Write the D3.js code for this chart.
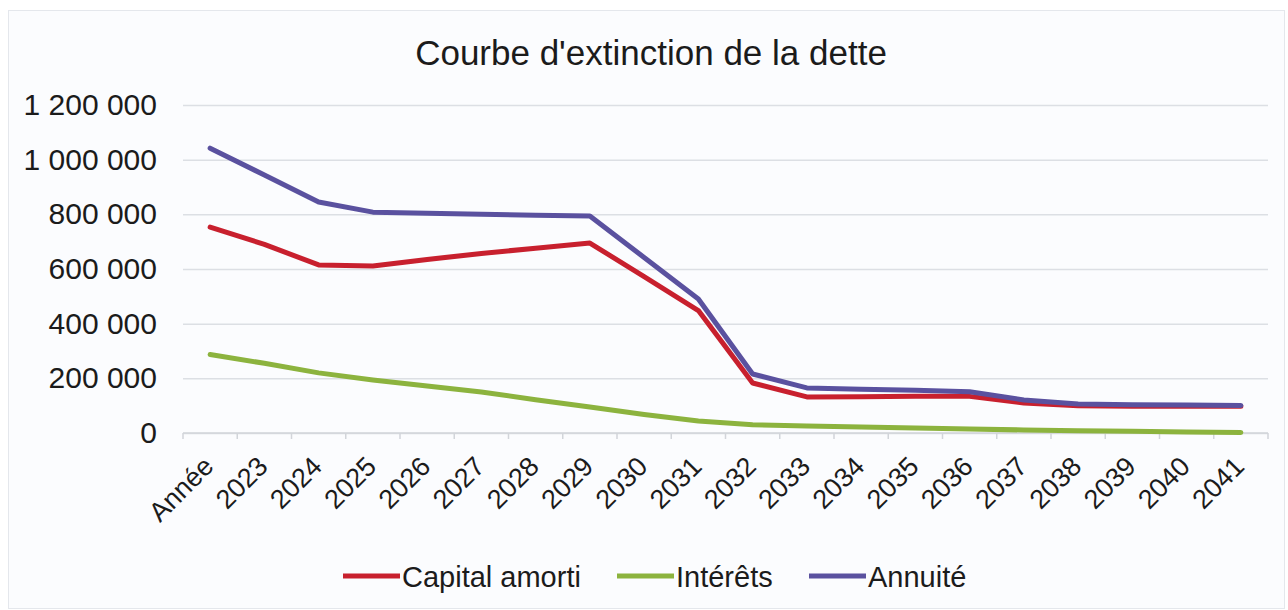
<!DOCTYPE html>
<html>
<head>
<meta charset="utf-8">
<script src="https://cdn.jsdelivr.net/npm/d3@7"></script>
<style>
  body { margin: 0; background: #fff; }
  text { font-family: "Liberation Sans", Arial, sans-serif; fill: #1b1b1b; }
</style>
</head>
<body>
<div id="chart"></div>
<script>
// categories on the x axis (first one is the header cell picked up by the sheet)
var categories = ["Année", "2023", "2024", "2025", "2026", "2027", "2028", "2029", "2030",
  "2031", "2032", "2033", "2034", "2035", "2036", "2037", "2038", "2039", "2040", "2041"];

// series values
var capital = [753000, 690000, 615000, 611000, 635000, 657000, 676000, 695000, 572000, 448000,
  183000, 132000, 133000, 134000, 134000, 110000, 100000, 98000, 98000, 98000];
var interets = [287000, 255000, 220000, 194000, 172000, 150000, 122000, 95000, 68000, 44000,
  30000, 26000, 22000, 18000, 15000, 11000, 8000, 6000, 4000, 2000];
var annuite = [1042000, 944000, 845000, 808000, 804000, 800000, 797000, 794000, 642000, 490000,
  216000, 165000, 160000, 156000, 151000, 121000, 106000, 103000, 102000, 101000];

var yTicks = [0, 200000, 400000, 600000, 800000, 1000000, 1200000];

var seriesNames = ["Capital amorti", "Intérêts", "Annuité"];
var seriesColors = ["#c8202e", "#8cb33e", "#5a519f"];

var width = 1288;
var height = 610;
// plot area edges
var plotLeft = 183, plotRight = 1268, plotTop = 105, plotBottom = 433;

var svg = d3.select("#chart")
    .append("svg")
    .attr("width", width)
    .attr("height", height);

// chart area (faint border, very light fill)
svg.append("rect")
    .attr("x", 8.5)
    .attr("y", 10.5)
    .attr("width", 1276)
    .attr("height", 598)
    .attr("fill", "#fbfcfe")
    .attr("stroke", "#e4e7ec");

var x = d3.scaleBand()
    .domain(categories)
    .range([plotLeft, plotRight]);

var y = d3.scaleLinear()
    .domain([0, 1200000])
    .range([plotBottom, plotTop]);

var fmt = d3.formatLocale({ decimal: ",", thousands: " ", grouping: [3], currency: ["", "€"] }).format(",d");

// gridlines
svg.append("g")
    .attr("transform", "translate(" + plotLeft + ",0)")
    .call(d3.axisLeft(y).tickValues(yTicks).tickSize(-(plotRight - plotLeft)).tickFormat(""))
    .call(function(g) {
      g.select(".domain").remove();
      g.selectAll("line").attr("stroke", "#dcdfe4").attr("stroke-width", 1.5);
    });

// y labels
svg.append("g")
    .attr("transform", "translate(" + plotLeft + ",0)")
    .call(d3.axisLeft(y).tickValues(yTicks).tickSize(0).tickPadding(26).tickFormat(fmt))
    .call(function(g) {
      g.select(".domain").remove();
      g.selectAll("text")
        .attr("font-size", 30)
        .attr("font-family", "Liberation Sans, Arial, sans-serif")
        .attr("fill", "#1b1b1b");
    });

// x axis line and ticks at category boundaries
svg.append("line")
    .attr("x1", plotLeft).attr("x2", plotRight)
    .attr("y1", plotBottom).attr("y2", plotBottom)
    .attr("stroke", "#d2d5da")
    .attr("stroke-width", 1.5);

svg.append("g")
    .selectAll("line")
    .data(categories.concat([null]))
    .join("line")
    .attr("x1", function(d, i) { return plotLeft + i * x.step(); })
    .attr("x2", function(d, i) { return plotLeft + i * x.step(); })
    .attr("y1", plotBottom)
    .attr("y2", plotBottom + 6)
    .attr("stroke", "#d2d5da")
    .attr("stroke-width", 1.5);

// x labels rotated
svg.append("g")
    .selectAll("text")
    .data(categories)
    .join("text")
    .attr("transform", function(d) {
      return "translate(" + (x(d) + x.bandwidth() / 2 + 5) + ",468) rotate(-45)";
    })
    .attr("text-anchor", "end")
    .attr("font-size", 27)
    .text(function(d) { return d; });

// title
svg.append("text")
    .attr("x", 651)
    .attr("y", 65)
    .attr("text-anchor", "middle")
    .attr("font-size", 35)
    .text("Courbe d'extinction de la dette");

// lines
var line = d3.line()
    .x(function(d, i) { return x(categories[i]) + x.bandwidth() / 2; })
    .y(function(d) { return y(d); });

var allSeries = [capital, interets, annuite];

svg.append("g")
    .selectAll("path")
    .data(allSeries)
    .join("path")
    .attr("d", line)
    .attr("fill", "none")
    .attr("stroke", function(d, i) { return seriesColors[i]; })
    .attr("stroke-width", 5)
    .attr("stroke-linejoin", "round")
    .attr("stroke-linecap", "round");

// legend
var legendX = [343, 617, 809];
var legend = svg.append("g")
    .selectAll("g")
    .data(seriesNames)
    .join("g")
    .attr("transform", function(d, i) { return "translate(" + legendX[i] + ",576)"; });

legend.append("line")
    .attr("x1", 0).attr("x2", 57)
    .attr("y1", 0).attr("y2", 0)
    .attr("stroke", function(d, i) { return seriesColors[i]; })
    .attr("stroke-width", 5);

legend.append("text")
    .attr("x", 59)
    .attr("y", 11)
    .attr("font-size", 29)
    .text(function(d) { return d; });
</script>
</body>
</html>
